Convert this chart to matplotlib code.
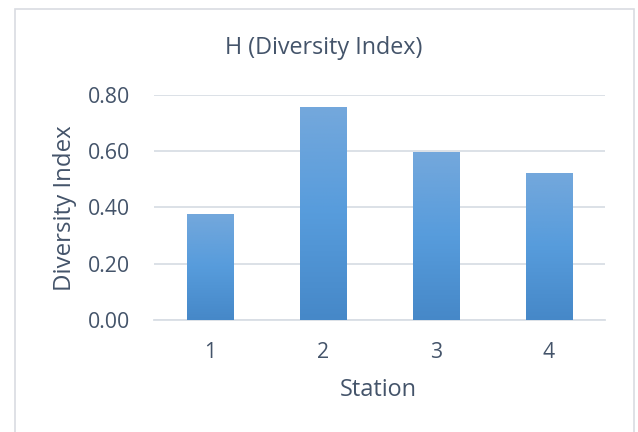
import numpy as np
import matplotlib
matplotlib.use("Agg")
import matplotlib.pyplot as plt
from matplotlib.patches import Rectangle
from matplotlib.colors import LinearSegmentedColormap

stations = ["1", "2", "3", "4"]
diversity = [0.377, 0.757, 0.597, 0.523]
yticks = [0.0, 0.2, 0.4, 0.6, 0.8]
ytick_labels = ["0.00", "0.20", "0.40", "0.60", "0.80"]

plt.rcParams["font.family"] = ["Open Sans", "DejaVu Sans"]
text_color = "#44546A"
grid_color = "#D9DEE5"

W, H = 638, 432
fig = plt.figure(figsize=(W / 100, H / 100), dpi=100)
fig.patch.set_facecolor("white")

# chart frame
fig.patches.append(Rectangle((15 / W, -0.05), (634 - 15) / W, 1.05 - 9 / H,
                             transform=fig.transFigure, fill=False,
                             edgecolor="#D9DCE1", linewidth=1.2))

ax = fig.add_axes([154 / W, 1 - 320 / H, (605 - 154) / W, (320 - 95) / H])
x = np.arange(len(stations))
width = 0.41
bars = ax.bar(x, diversity, width=width, color="none", edgecolor="none", zorder=3)

# vertical gradient fill for each bar
cmap = LinearSegmentedColormap.from_list("barfill", ["#4688C8", "#579CDC", "#74A8DC"])
grad = np.linspace(0, 1, 256).reshape(-1, 1)
for b in bars:
    x0, y0 = b.get_x(), b.get_y()
    w, h = b.get_width(), b.get_height()
    im = ax.imshow(grad, cmap=cmap, origin="lower", aspect="auto",
                   extent=[x0, x0 + w, y0, y0 + h], zorder=3)
    im.set_clip_path(b)

ax.set_xlim(-0.5, len(stations) - 0.5)
ax.set_ylim(0, 0.8)
ax.set_yticks(yticks)
ax.set_yticklabels(ytick_labels)
ax.set_xticks(x)
ax.set_xticklabels(stations)
ax.yaxis.grid(True, color=grid_color, linewidth=1.3, zorder=0)
ax.set_axisbelow(True)
for s in ["top", "right", "left"]:
    ax.spines[s].set_visible(False)
ax.spines["bottom"].set_color(grid_color)
ax.spines["bottom"].set_linewidth(1.3)
ax.tick_params(axis="both", length=0, colors=text_color, labelsize=15.3)
ax.tick_params(axis="y", pad=17.3)
ax.tick_params(axis="x", pad=15.5)

fig.text(378 / W, 1 - 390 / H, "Station", ha="center", va="center",
         fontsize=16.9, color=text_color)
fig.text(65 / W, 1 - 208 / H, "Diversity Index", ha="center", va="center",
         rotation=90, fontsize=17.3, color=text_color)
fig.text(324 / W, 1 - 48 / H, "H (Diversity Index)", ha="center", va="center",
         fontsize=16.8, color=text_color)

fig.savefig("out.png", dpi=100)
